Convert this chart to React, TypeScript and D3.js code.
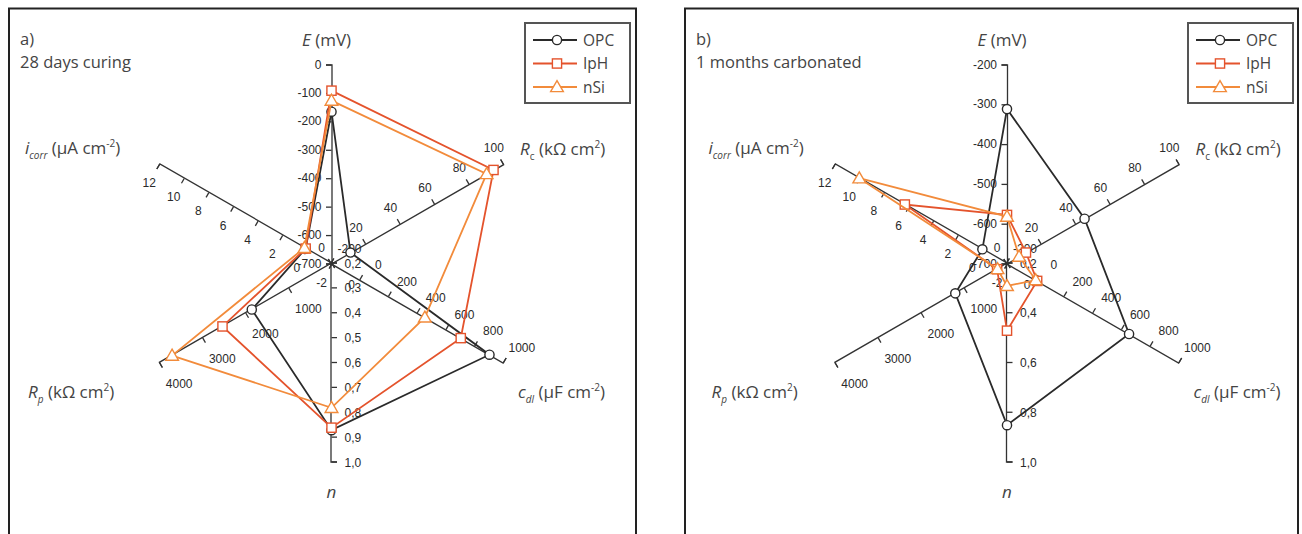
import * as d3 from 'd3';
import { useEffect, useRef } from 'react';

const W = 1302;
const H = 534;

const seriesNames = ['OPC', 'IpH', 'nSi'];
const axisKeys = ['E', 'Rc', 'cdl', 'n', 'Rp', 'icorr'];

// values per axis, order: E, Rc, cdl, n, Rp, icorr
// a) 28 days curing
const curingOPC = [-166, 11, 900, 0.87, 1850, 0.1];
const curingIpH = [-92, 94, 700, 0.86, 2530, 0.1];
const curingNSi = [-127, 90, 450, 0.78, 3700, 0.2];
// b) 1 months carbonated
const carbOPC = [-312, 45, 650, 0.85, 1200, 0];
const carbIpH = [-578, 11, 10, 0.47, 230, 6.3];
const carbNSi = [-582, 7, 0, 0.29, 220, 10];

// tick values (first one sits at the centre, last one at the end)
const ticksEa = [-700, -600, -500, -400, -300, -200, -100, 0];
const ticksEb = [-700, -600, -500, -400, -300, -200];
const ticksRc = [0, 20, 40, 60, 80, 100];
const ticksCdl = [-200, 0, 200, 400, 600, 800, 1000];
const ticksNa = [0.2, 0.3, 0.4, 0.5, 0.6, 0.7, 0.8, 0.9, 1.0];
const ticksNb = [0.2, 0.4, 0.6, 0.8, 1.0];
const ticksRp = [0, 1000, 2000, 3000, 4000];
const ticksIcorr = [-2, 0, 2, 4, 6, 8, 10, 12];

const colors = ['#2a2a2a', '#e4532c', '#f28b3b'];
const R = 199;

// axis look: angle clockwise from up, tick label offset, anchor
const axisStyle = [
  { angle: 0, dx: -10, dy: 4, anchor: 'end' },
  { angle: 60, dx: -10, dy: -12, anchor: 'middle' },
  { angle: 120, dx: 18, dy: -11, anchor: 'middle' },
  { angle: 180, dx: 13, dy: 4, anchor: 'start' },
  { angle: 240, dx: 20, dy: 25, anchor: 'middle' },
  { angle: 300, dx: -10, dy: 23, anchor: 'middle' },
];

type Part = { t: string; it?: boolean; sub?: boolean; sup?: boolean };

const axisTitles: Part[][] = [
  [{ t: 'E', it: true }, { t: ' (mV)' }],
  [{ t: 'R', it: true }, { t: 'c', sub: true }, { t: ' (kΩ cm' }, { t: '2', sup: true }, { t: ')' }],
  [{ t: 'c', it: true }, { t: 'dl', it: true, sub: true }, { t: ' (μF cm' }, { t: '-2', sup: true }, { t: ')' }],
  [{ t: 'n', it: true }],
  [{ t: 'R', it: true }, { t: 'p', it: true, sub: true }, { t: ' (kΩ cm' }, { t: '2', sup: true }, { t: ')' }],
  [{ t: 'i', it: true }, { t: 'corr', it: true, sub: true }, { t: ' (μA cm' }, { t: '-2', sup: true }, { t: ')' }],
];

const panels = [
  {
    tag: 'a)', name: '28 days curing', x0: 9, x1: 636, cx: 331.5, legendX: 525, shift: 0,
    domains: [[-700, 0], [0, 100], [-200, 1000], [0.2, 1.0], [0, 4000], [-2, 12]],
    ticks: [ticksEa, ticksRc, ticksCdl, ticksNa, ticksRp, ticksIcorr],
    data: [curingOPC, curingIpH, curingNSi],
  },
  {
    tag: 'b)', name: '1 months carbonated', x0: 685, x1: 1298, cx: 1007, legendX: 1188, shift: 8,
    domains: [[-700, -200], [0, 100], [-200, 1000], [0.2, 1.0], [0, 4000], [-2, 12]],
    ticks: [ticksEb, ticksRc, ticksCdl, ticksNb, ticksRp, ticksIcorr],
    data: [carbOPC, carbIpH, carbNSi],
  },
];

const cy = 263.5;
const titleFont = '"Open Sans", sans-serif';
const tickFont = '"Liberation Sans", Arial, sans-serif';

function writeParts(text: any, parts: Part[]) {
  parts.forEach(p => {
    const s = text.append('tspan').text(p.t)
    if (p.it) s.attr('font-style', 'italic')
    if (p.sub) s.attr('font-size', 10).attr('baseline-shift', '-5')
    if (p.sup) s.attr('font-size', 10).attr('baseline-shift', '7')
  })
}

function marker(g: any, k: number, x: number, y: number) {
  if (k === 0) {
    g.append('circle').attr('cx', x).attr('cy', y).attr('r', 4.6)
      .attr('fill', '#fff').attr('stroke', colors[0]).attr('stroke-width', 1.4)
  } else if (k === 1) {
    g.append('rect').attr('x', x - 4.6).attr('y', y - 4.6).attr('width', 9.2).attr('height', 9.2)
      .attr('fill', '#fff').attr('stroke', colors[1]).attr('stroke-width', 1.4)
  } else {
    g.append('path').attr('d', d3.symbol(d3.symbolTriangle, 70)()).attr('transform', `translate(${x},${y + 1})`)
      .attr('fill', '#fff').attr('stroke', colors[2]).attr('stroke-width', 1.4)
  }
}

function drawChart(el: SVGSVGElement) {
  const svg = d3.select(el)
  svg.selectAll('*').remove()
  svg.append('rect').attr('width', W).attr('height', H).attr('fill', '#fff')

  const titleOffsets = [
    { x: -5, y: -217.5, anchor: 'middle', left: false },
    { x: 188.5, y: -108.5, anchor: 'start', left: false },
    { x: 186.5, y: 134.5, anchor: 'start', left: false },
    { x: 0, y: 234.5, anchor: 'middle', left: false },
    { x: -303.5, y: 134.5, anchor: 'start', left: true },
    { x: -306.5, y: -109.5, anchor: 'start', left: true },
  ]

  panels.forEach(p => {
    const g = svg.append('g')
    g.append('rect').attr('x', p.x0).attr('y', 8.5).attr('width', p.x1 - p.x0).attr('height', 560)
      .attr('fill', 'none').attr('stroke', '#222').attr('stroke-width', 2)

    g.append('text').attr('x', p.x0 + 11).attr('y', 45).text(p.tag)
      .attr('font-family', titleFont).attr('font-size', 16.5).attr('fill', '#444')
    g.append('text').attr('x', p.x0 + 11).attr('y', 68).text(p.name)
      .attr('font-family', titleFont).attr('font-size', 16.5).attr('fill', '#444')

    const scales = p.domains.map(d => d3.scaleLinear().domain(d).range([0, R]))
    const pos = (i: number, v: number) => {
      const a = axisStyle[i].angle * Math.PI / 180
      const r = scales[i](v)
      return [p.cx + Math.sin(a) * r, cy - Math.cos(a) * r]
    }

    axisKeys.forEach((key, i) => {
      const st = axisStyle[i]
      const axScale = scales[i].copy().range([0, -R])
      const ax = g.append('g').attr('class', 'axis-' + key)
        .attr('transform', `translate(${p.cx},${cy}) rotate(${st.angle})`)
        .call(d3.axisLeft(axScale).tickValues(p.ticks[i]).tickFormat(() => '').tickSize(5.5).tickSizeOuter(5.5))
      ax.selectAll('path, line').attr('stroke', '#333').attr('stroke-width', 1.3)

      const fmt = key === 'n' ? (v: number) => d3.format('.1f')(v).replace('.', ',') : (v: number) => String(v)
      p.ticks[i].forEach(v => {
        const [x, y] = pos(i, v)
        g.append('text').attr('x', x + st.dx).attr('y', y + st.dy).text(fmt(v))
          .attr('text-anchor', st.anchor).attr('font-family', tickFont).attr('font-size', 12)
          .attr('fill', '#2a2a2a')
      })

      const to = titleOffsets[i]
      const t = g.append('text').attr('x', p.cx + to.x + (to.left ? p.shift : 0)).attr('y', cy + to.y)
        .attr('text-anchor', to.anchor).attr('font-family', titleFont).attr('font-size', 17).attr('fill', '#444')
      writeParts(t, axisTitles[i])
    })

    const line = d3.line<number[]>().x(d => d[0]).y(d => d[1]).curve(d3.curveLinearClosed)
    p.data.forEach((vals, k) => {
      const pts = vals.map((v, i) => pos(i, v))
      g.append('path').attr('d', line(pts)).attr('fill', 'none')
        .attr('stroke', colors[k]).attr('stroke-width', 1.8)
      pts.forEach(([x, y]) => marker(g, k, x, y))
    })

    // legend
    const lg = g.append('g').attr('transform', `translate(${p.legendX},23)`)
    lg.append('rect').attr('width', 105).attr('height', 80).attr('fill', '#fff')
      .attr('stroke', '#555').attr('stroke-width', 2)
    seriesNames.forEach((s, k) => {
      const y = 17 + k * 23.5
      lg.append('line').attr('x1', 8).attr('x2', 52).attr('y1', y).attr('y2', y)
        .attr('stroke', colors[k]).attr('stroke-width', 1.8)
      marker(lg, k, 32, y)
      lg.append('text').attr('x', 58).attr('y', y + 5.5).text(s)
        .attr('font-family', titleFont).attr('font-size', 15.5).attr('fill', '#444')
    })
  })
}

export default function App() {
  const svgRef = useRef<SVGSVGElement>(null)

  useEffect(() => {
    if (svgRef.current) drawChart(svgRef.current)
  }, [])

  return (
    <svg ref={svgRef} width={W} height={H} style={{ position: 'absolute', left: 0, top: 0 }}></svg>
  )
}
